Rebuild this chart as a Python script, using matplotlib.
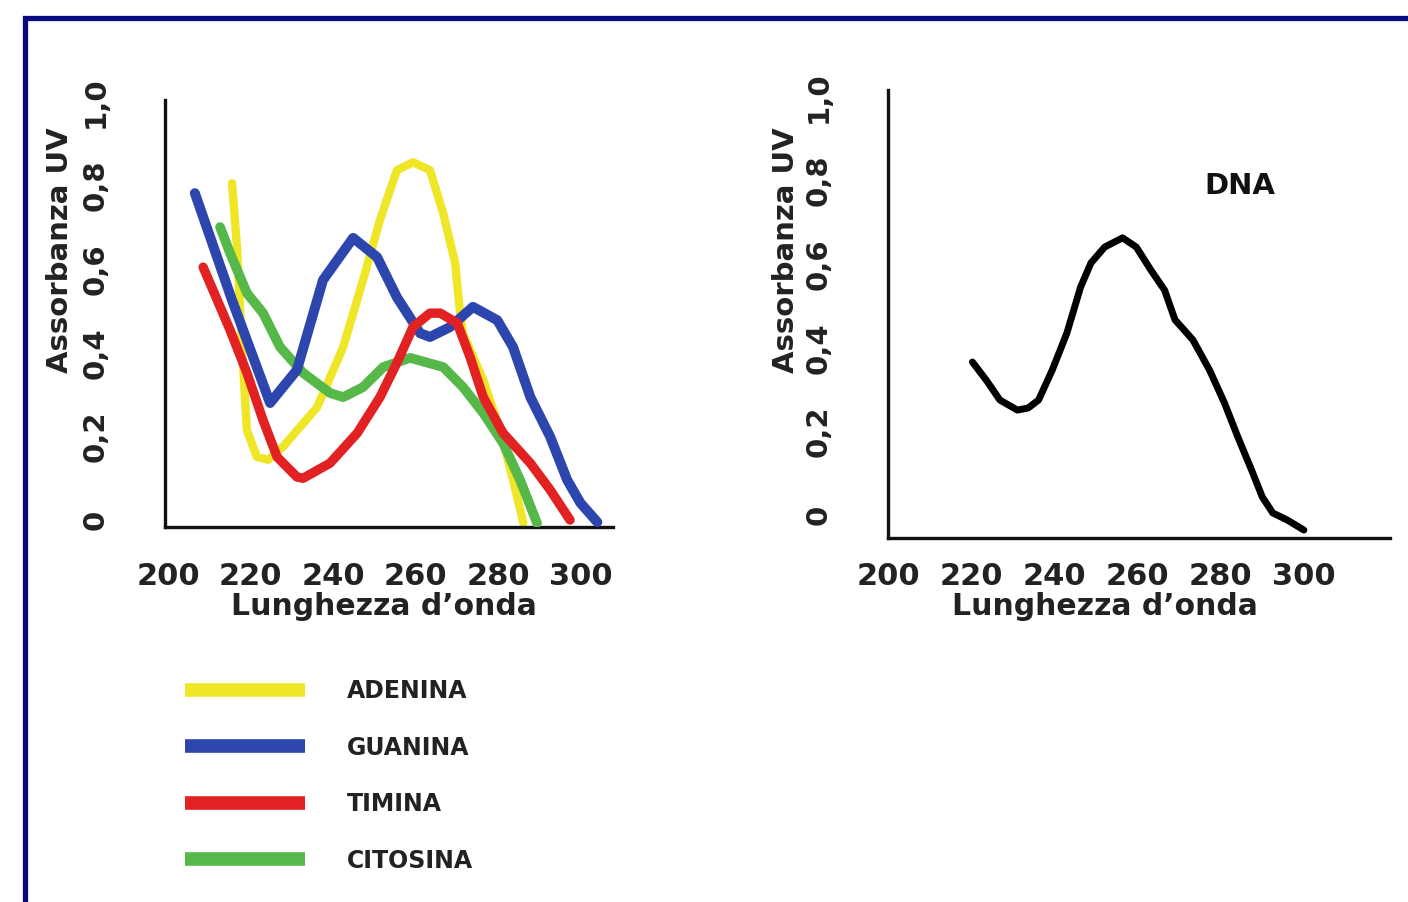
import matplotlib
matplotlib.use("Agg")
import matplotlib.pyplot as plt
from matplotlib.patches import Rectangle

# ---------------- data ----------------
adenina_x = [215.5, 216.7, 217.9, 219.1, 221.5, 224.2, 227.8, 236.1, 242.4, 247.2, 251.3,
             255.4, 259.3, 263.4, 266.6, 269.5, 270.7, 271.4, 276.3, 280.4, 283.5, 286.0]
adenina_y = [0.806, 0.653, 0.414, 0.215, 0.151, 0.144, 0.175, 0.270, 0.414, 0.574, 0.718,
             0.837, 0.856, 0.837, 0.734, 0.615, 0.495, 0.447, 0.335, 0.215, 0.096, -0.007]

guanina_x = [206.5, 215.5, 224.7, 231.2, 237.5, 244.8, 250.6, 255.4, 261.0, 263.4, 268.3,
             273.8, 279.7, 283.5, 287.7, 292.5, 296.6, 299.8, 303.9]
guanina_y = [0.782, 0.526, 0.280, 0.359, 0.574, 0.675, 0.629, 0.533, 0.447, 0.438, 0.462,
             0.510, 0.478, 0.414, 0.294, 0.199, 0.096, 0.041, -0.005]

timina_x = [208.5, 215.0, 219.1, 223.0, 226.4, 231.2, 232.7, 239.2, 245.8, 251.3, 255.4,
            259.3, 263.4, 265.9, 270.0, 273.1, 276.3, 281.1, 287.7, 292.5, 297.3]
timina_y = [0.605, 0.455, 0.352, 0.239, 0.151, 0.103, 0.100, 0.136, 0.208, 0.294, 0.376,
            0.462, 0.495, 0.495, 0.471, 0.390, 0.294, 0.208, 0.136, 0.072, 0.0]

citosina_x = [212.6, 215.0, 219.1, 223.0, 227.1, 232.7, 239.2, 242.4, 247.2, 252.1, 258.6,
              266.6, 271.4, 276.3, 281.1, 285.2, 289.3]
citosina_y = [0.701, 0.639, 0.543, 0.495, 0.414, 0.352, 0.304, 0.294, 0.318, 0.366, 0.388,
              0.366, 0.318, 0.256, 0.184, 0.096, -0.007]

dna_x = [220.3, 223.6, 226.9, 231.1, 233.7, 236.2, 239.5, 243.0, 246.3, 248.8, 252.1, 256.4,
         259.7, 263.2, 266.5, 269.0, 273.3, 277.3, 280.9, 284.1, 287.4, 290.0, 292.5, 296.0, 300.0]
dna_y = [0.366, 0.323, 0.275, 0.251, 0.256, 0.275, 0.347, 0.435, 0.545, 0.603, 0.641, 0.663,
         0.641, 0.586, 0.538, 0.467, 0.419, 0.347, 0.268, 0.187, 0.108, 0.043, 0.005, -0.012, -0.036]

x_ticks = [200, 220, 240, 260, 280, 300]
y_ticks = [0, 0.2, 0.4, 0.6, 0.8, 1.0]
y_ticklabels = ["0", "0,2", "0,4", "0,6", "0,8", "1,0"]
legend_labels = ["ADENINA", "GUANINA", "TIMINA", "CITOSINA"]
colors = {"ADENINA": "#efe628", "GUANINA": "#2c46ad", "TIMINA": "#e22222", "CITOSINA": "#55b848"}

# ---------------- figure ----------------
W, H = 1408, 902
fig = plt.figure(figsize=(W / 100, H / 100), dpi=100)
fig.patch.set_facecolor("white")
plt.rcParams["font.family"] = ["DejaVu Sans"]
TXT = "#222222"


def px_axes(x0, x1, ytop, ybot):
    return [x0 / W, 1 - ybot / H, (x1 - x0) / W, (ybot - ytop) / H]


axL = fig.add_axes(px_axes(165, 613, 100, 527))
axR = fig.add_axes(px_axes(888, 1390, 90, 538))

axL.set_xlim(199.27, 307.7)
axL.set_ylim(-0.0167, 1.005)
axR.set_xlim(200.0, 320.7)
axR.set_ylim(-0.055, 1.0167)

for ax in (axL, axR):
    ax.set_facecolor("none")
    for s in ("top", "right"):
        ax.spines[s].set_visible(False)
    for s in ("left", "bottom"):
        ax.spines[s].set_linewidth(2.4)
        ax.spines[s].set_color("#111111")
    ax.set_xticks(x_ticks)
    ax.set_xticklabels([str(t) for t in x_ticks])
    ax.set_yticks(y_ticks)
    ax.set_yticklabels(y_ticklabels, rotation=90, va="center")
    ax.tick_params(axis="both", length=0, labelcolor=TXT)
    ax.tick_params(axis="x", labelsize=22)
    ax.tick_params(axis="y", labelsize=21, pad=40)
    for lab in ax.get_xticklabels() + ax.get_yticklabels():
        lab.set_fontweight("bold")
    ax.set_xlabel("Lunghezza d\u2019onda", fontsize=21.5, fontweight="bold", color=TXT)
    ax.set_ylabel("Assorbanza UV", fontsize=21, fontweight="bold", color=TXT)

axL.tick_params(axis="x", pad=25)
axR.tick_params(axis="x", pad=17)

axL.xaxis.set_label_coords(0.488, -0.152)
axL.yaxis.set_label_coords(-0.203, 0.649)
axR.xaxis.set_label_coords(0.432, -0.1205)
axR.yaxis.set_label_coords(-0.175, 0.643)

# curves
lA, = axL.plot(adenina_x, adenina_y, color=colors["ADENINA"], lw=6.0,
               solid_joinstyle="round", solid_capstyle="round", zorder=2)
lC, = axL.plot(citosina_x, citosina_y, color=colors["CITOSINA"], lw=7.0,
               solid_joinstyle="round", solid_capstyle="round", zorder=3)
lG, = axL.plot(guanina_x, guanina_y, color=colors["GUANINA"], lw=7.2,
               solid_joinstyle="round", solid_capstyle="round", zorder=4)
lT, = axL.plot(timina_x, timina_y, color=colors["TIMINA"], lw=6.8,
               solid_joinstyle="round", solid_capstyle="round", zorder=5)

axR.plot(dna_x, dna_y, color="black", lw=5.0,
         solid_joinstyle="round", solid_capstyle="round")
axR.text(0.70, 0.785, "DNA", transform=axR.transAxes, fontsize=21, fontweight="bold",
         color="#111111", ha="center", va="center")

# legend
leg = axL.legend([lA, lG, lT, lC], legend_labels, loc="upper left",
                 bbox_to_anchor=(185 / W, 1 - 679 / H), bbox_transform=fig.transFigure,
                 frameon=False, fontsize=17, handlelength=5.1, handletextpad=1.75,
                 labelspacing=1.38, borderpad=0, borderaxespad=0)
for t in leg.get_texts():
    t.set_fontweight("bold")
    t.set_color(TXT)
for ln in leg.get_lines():
    ln.set_linewidth(9.8)
    ln.set_solid_capstyle("butt")

# frame border (navy)
fig.patches.append(Rectangle((25 / W, -0.2), 2.0, 1.2 - 17.5 / H, transform=fig.transFigure,
                             fill=False, edgecolor="#0a0a80", linewidth=3.8, zorder=0))

fig.savefig("out.png", dpi=100, facecolor="white")
